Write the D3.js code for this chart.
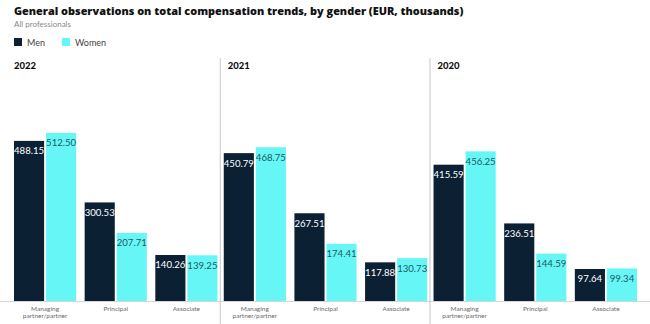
<!DOCTYPE html>
<html>
<head>
<meta charset="utf-8">
<script src="https://cdn.jsdelivr.net/npm/d3@7/dist/d3.min.js"></script>
<style>
  body { margin: 0; background: #fff; }
  svg { font-family: Lato, "Open Sans", sans-serif; }
</style>
</head>
<body>
<div id="root"></div>
<script>
const w = 650, h = 324

// data
const years = ["2022", "2021", "2020"]
const roles = ["Managing partner/partner", "Principal", "Associate"]
const roleLines = [["Managing", "partner/partner"], ["Principal"], ["Associate"]]
const genders = ["Men", "Women"]
const men = {
  "2022": [488.15, 300.53, 140.26],
  "2021": [450.79, 267.51, 117.88],
  "2020": [415.59, 236.51, 97.64]
}
const women = {
  "2022": [512.50, 207.71, 139.25],
  "2021": [468.75, 174.41, 130.73],
  "2020": [456.25, 144.59, 99.34]
}

const colors = { Men: "#0c2034", Women: "#67f6f6" }
const labelColors = { Men: "#ffffff", Women: "#1d5a63" }

const base = 301

//scales
const panelscale = d3.scaleBand()
  .domain(years)
  .range([14, 637])
  .paddingInner(0.03)

const groupscale = d3.scaleBand()
  .domain(roles)
  .range([0, panelscale.bandwidth()])
  .paddingInner(0.12)

const barscale = d3.scaleBand()
  .domain(genders)
  .range([0, groupscale.bandwidth()])
  .paddingInner(0.06)

const yscale = d3.scaleLinear()
  .domain([0, 550])
  .range([base, base - 550 * 0.328])

const svg = d3.select("#root").append("svg")
  .attr("width", w)
  .attr("height", h)

// title block
svg.append("text")
  .attr("x", 14).attr("y", 15)
  .attr("font-family", "'Open Sans', sans-serif")
  .attr("font-size", 10.9)
  .attr("font-weight", 800)
  .attr("fill", "#111")
  .text("General observations on total compensation trends, by gender (EUR, thousands)")

svg.append("text")
  .attr("x", 14).attr("y", 27)
  .attr("font-size", 8)
  .attr("fill", "#8a8a8a")
  .text("All professionals")

// legend
const legend = svg.selectAll("g.legend").data(genders).enter().append("g")
  .attr("class", "legend")
  .attr("transform", (d, i) => `translate(${14 + i * 48},38)`)
legend.append("rect")
  .attr("width", 8).attr("height", 8)
  .attr("fill", d => colors[d])
legend.append("text")
  .attr("x", 13).attr("y", 8)
  .attr("font-size", 9)
  .attr("fill", "#444")
  .text(d => d)

// baseline
svg.append("line")
  .attr("x1", 0).attr("x2", w)
  .attr("y1", base + 0.5).attr("y2", base + 0.5)
  .attr("stroke", "#d6d6d6")

const panels = svg.selectAll("g.panel").data(years).enter().append("g")
  .attr("class", "panel")
  .attr("transform", d => `translate(${panelscale(d)},0)`)

// dividers between years
panels.filter((d, i) => i > 0).append("line")
  .attr("x1", -3.5).attr("x2", -3.5)
  .attr("y1", 58).attr("y2", h)
  .attr("stroke", "#c8c8c8")

panels.append("text")
  .attr("x", (d, i) => i ? 4 : 0)
  .attr("y", 68.5)
  .attr("font-size", 9.5)
  .attr("font-weight", 900)
  .attr("fill", "#111")
  .text(d => d)

const groups = panels.selectAll("g.group")
  .data(year => roles.map((r, i) => ({
    year: year, role: r, idx: i,
    bars: [
      { gender: "Men", value: men[year][i] },
      { gender: "Women", value: women[year][i] }
    ]
  })))
  .enter().append("g")
  .attr("class", "group")
  .attr("transform", d => `translate(${groupscale(d.role)},0)`)

groups.selectAll("rect.bar").data(d => d.bars).enter().append("rect")
  .attr("class", "bar")
  .attr("x", d => barscale(d.gender))
  .attr("width", barscale.bandwidth())
  .attr("y", d => yscale(d.value))
  .attr("height", d => base - yscale(d.value))
  .attr("fill", d => colors[d.gender])

const f = d3.format(".2f")
groups.selectAll("text.value").data(d => d.bars).enter().append("text")
  .attr("class", "value")
  .attr("x", d => barscale(d.gender) + barscale.bandwidth() / 2)
  .attr("y", d => yscale(d.value) + 13.5)
  .attr("text-anchor", "middle")
  .attr("font-size", 9.6)
  .attr("fill", d => labelColors[d.gender])
  .text(d => f(d.value))

groups.append("text")
  .attr("class", "cat")
  .attr("text-anchor", "middle")
  .attr("font-size", 6.5)
  .attr("fill", "#6a6a6a")
  .selectAll("tspan").data(d => roleLines[d.idx]).enter().append("tspan")
  .attr("x", groupscale.bandwidth() / 2)
  .attr("y", (d, i) => 311 + i * 6.5)
  .text(d => d)
</script>
</body>
</html>
